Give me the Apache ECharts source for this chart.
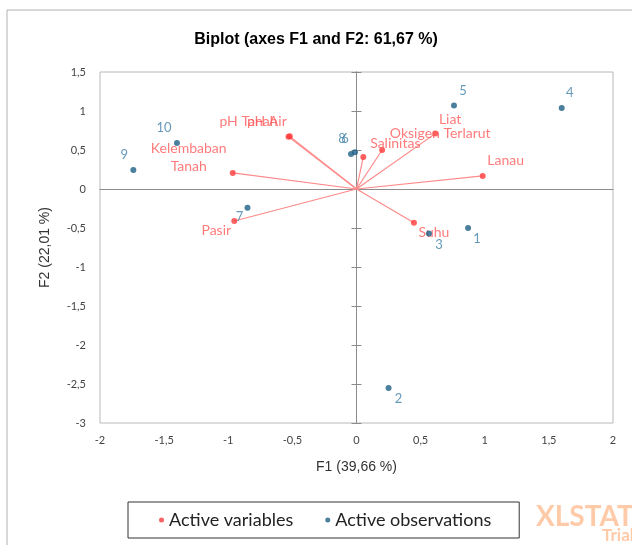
<!DOCTYPE html>
<html>
<head>
<meta charset="utf-8">
<script src="https://cdn.jsdelivr.net/npm/echarts@6/dist/echarts.min.js"></script>
<style>
  html, body { margin: 0; padding: 0; background: #fff; }
  #chart { width: 632px; height: 545px; }
</style>
</head>
<body>
<div id="chart"></div>
<script>
// observations (blue)
var obsNames = ['1', '2', '3', '4', '5', '6', '7', '8', '9', '10'];
var obsF1 = [0.87, 0.25, 0.565, 1.60, 0.76, -0.012, -0.85, -0.043, -1.74, -1.40];
var obsF2 = [-0.50, -2.55, -0.57, 1.04, 1.07, 0.47, -0.24, 0.45, 0.245, 0.59];

// variables (red)
var varNames = ['pH Tanah', 'pH Air', 'Kelembaban Tanah', 'Pasir', 'Salinitas', 'Liat', 'Oksigen Terlarut', 'Lanau', 'Suhu'];
var varF1 = [-0.53, -0.52, -0.965, -0.953, 0.053, 0.20, 0.614, 0.984, 0.448];
var varF2 = [0.67, 0.675, 0.206, -0.41, 0.41, 0.50, 0.71, 0.168, -0.434];

// label offsets (style only)
var obsOffsets = [[9, 11], [10, 11], [10, 11], [8, -15], [9, -15], [-10, -14], [-8, 9], [-9, -15], [-9, -15], [-13, -15]];
var varOffsets = [[-40, -15], [-23, -15], [-44, -15], [-18, 10], [32, -14], [68, -31], [5, 0], [23, -15], [20, 10]];

var RED = '#ff3b3b';
var BLUE = '#1d5f85';
var fmt = function (v) { return String(v).replace('.', ','); };

var obsData = obsNames.map(function (n, i) {
    return {
        name: n,
        value: [obsF1[i], obsF2[i]],
        label: { offset: obsOffsets[i] }
    };
});
var varData = varNames.map(function (n, i) {
    var d = {
        name: n,
        value: [varF1[i], varF2[i]],
        label: { offset: varOffsets[i] }
    };
    if (n === 'Kelembaban Tanah') {
        d.label.formatter = 'Kelembaban\nTanah';
        d.label.lineHeight = 18;
    }
    return d;
});
var vecData = varNames.map(function (n, i) {
    return { coords: [[0, 0], [varF1[i], varF2[i]]] };
});

var myChart = echarts.init(document.getElementById('chart'));
var option = {
    animation: false,
    title: {
        text: 'Biplot (axes F1 and F2: 61,67 %)',
        left: 'center',
        top: 27,
        textStyle: { fontFamily: 'Liberation Sans', fontSize: 16, fontWeight: 'bold', color: '#000' }
    },
    graphic: [
        { type: 'rect', shape: { x: 7, y: 10, width: 640, height: 600 }, style: { fill: 'none', stroke: '#b0b0b0', lineWidth: 1 }, silent: true },
        { type: 'text', left: 536, top: 503, style: { text: 'XLSTAT', fill: '#ffcaa8', font: 'bold 28px Lato' } },
        { type: 'text', left: 602, top: 527, style: { text: 'Trial', fill: '#ffcaa8', font: 'bold 17px Lato' } }
    ],
    legend: {
        left: 128,
        top: 502,
        padding: [9, 28, 9, 31],
        itemGap: 32,
        borderColor: '#333',
        borderWidth: 1,
        icon: 'circle',
        itemWidth: 5,
        itemHeight: 5,
        textStyle: { fontFamily: 'Lato', fontSize: 18, color: '#222' },
        data: ['Active variables', 'Active observations']
    },
    grid: {
        left: 100, right: 19, top: 72, bottom: 122,
        show: true, borderColor: '#b8b8b8', borderWidth: 1
    },
    xAxis: [{
        type: 'value', min: -2, max: 2, interval: 0.5,
        position: 'bottom',
        axisLine: { show: false, onZero: false },
        axisTick: { show: false },
        splitLine: { show: false },
        axisLabel: { formatter: fmt, margin: 12, fontFamily: 'Lato', fontSize: 11, color: '#444' },
        name: 'F1 (39,66 %)',
        nameLocation: 'middle',
        nameGap: 37,
        nameTextStyle: { fontFamily: 'Liberation Sans', fontSize: 14, color: '#333' }
    }, {
        type: 'value', min: -2, max: 2, interval: 0.5,
        axisLine: { show: true, onZero: true, lineStyle: { color: '#8c8c8c', width: 1 } },
        axisTick: { show: false },
        axisLabel: { show: false },
        splitLine: { show: false }
    }],
    yAxis: [{
        type: 'value', min: -3, max: 1.5, interval: 0.5,
        position: 'left',
        axisLine: { show: false, onZero: false },
        axisTick: { show: false },
        splitLine: { show: false },
        axisLabel: { formatter: fmt, margin: 14, fontFamily: 'Lato', fontSize: 11, color: '#444' },
        name: 'F2 (22,01 %)',
        nameLocation: 'middle',
        nameGap: 48,
        nameTextStyle: { fontFamily: 'Liberation Sans', fontSize: 14, color: '#333' }
    }, {
        type: 'value', min: -3, max: 1.5, interval: 0.5,
        axisLine: { show: true, onZero: true, lineStyle: { color: '#8c8c8c', width: 1 } },
        axisTick: { show: true, inside: false, length: 5, lineStyle: { color: '#8c8c8c' } },
        axisLabel: { show: false },
        splitLine: { show: false }
    }, {
        type: 'value', min: -3, max: 1.5, interval: 0.5,
        axisLine: { show: true, onZero: true, lineStyle: { color: '#8c8c8c', width: 1 } },
        axisTick: { show: true, inside: true, length: 5, lineStyle: { color: '#8c8c8c' } },
        axisLabel: { show: false },
        splitLine: { show: false }
    }],
    series: [{
        type: 'lines',
        coordinateSystem: 'cartesian2d',
        silent: true,
        lineStyle: { color: '#ff8a8a', width: 1.2, opacity: 1 },
        data: vecData,
        z: 2
    }, {
        name: 'Active variables',
        type: 'scatter',
        symbolSize: 6,
        itemStyle: { color: RED },
        label: {
            show: true, position: 'inside',
            formatter: '{b}',
            color: '#ff5a5a',
            fontFamily: 'Lato', fontSize: 14
        },
        data: varData,
        z: 3
    }, {
        name: 'Active observations',
        type: 'scatter',
        symbolSize: 6,
        itemStyle: { color: BLUE },
        label: {
            show: true, position: 'inside',
            formatter: '{b}',
            color: '#3f7fa8',
            fontFamily: 'Lato', fontSize: 13
        },
        data: obsData,
        z: 4
    }]
};
myChart.setOption(option);
</script>
</body>
</html>
